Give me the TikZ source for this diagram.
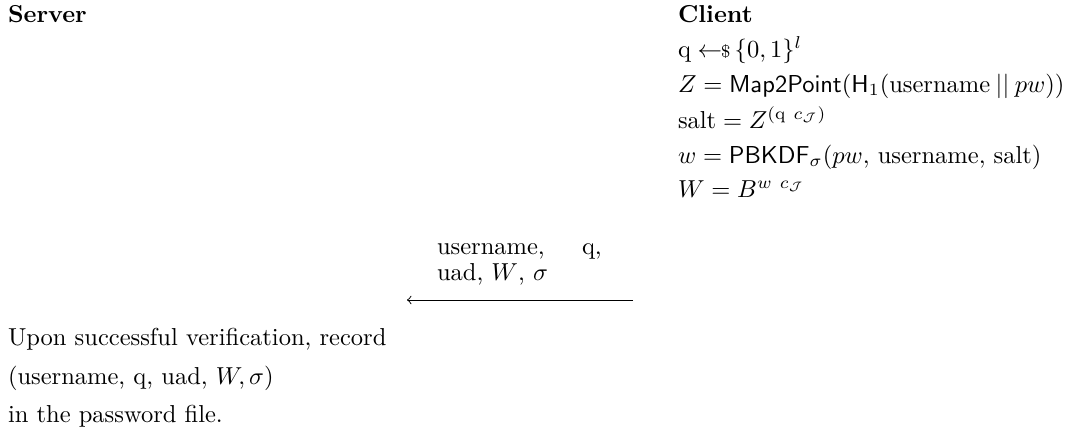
\documentclass[tikz,border=0pt]{standalone}
\usepackage{amsmath,amssymb}
\begin{document}
\begin{tikzpicture}[x=0.408pt,y=-0.408pt,
  txt/.style={anchor=base west,inner sep=0pt,outer sep=0pt},
  msg/.style={->,line width=0.4pt}]
\useasboundingbox (0,0) rectangle (1075,429);
% headers
\node[txt] (server) at (8,22) {\textbf{Server}};
\node[txt] (client) at (678,22) {\textbf{Client}};
% client computations
\node[txt] (c1) at (678,57) {$\mathrm{q} \leftarrow\!\!{\scriptstyle\$}\, \{0,1\}^l$};
\node[txt] (c2) at (678,92) {$Z = \mathsf{Map2Point}(\mathsf{H}_1(\text{username} \mathbin{||} pw))$};
\node[txt] (c3) at (678,128) {$\text{salt} = Z^{(\mathrm{q}\ c_{\mathcal{J}})}$};
\node[txt] (c4) at (678,163) {$w = \mathsf{PBKDF}_\sigma(pw,\, \text{username},\, \text{salt})$};
\node[txt] (c5) at (678,197) {$W = B^{w\ c_{\mathcal{J}}}$};
% message
\node[txt] (m1) at (437,254) {username,};
\node[txt] (m2) at (582,254) {q,};
\node[txt] (m3) at (437,280) {uad, $W$, $\sigma$};
\coordinate (aR) at (633,300);
\coordinate (aL) at (407,300);
\draw[msg] (aR) -- (aL);
% server record
\node[txt] (s1) at (8,345) {Upon successful verification, record};
\node[txt] (s2) at (8,384) {(username, q, uad, $W, \sigma$)};
\node[txt] (s3) at (8,422) {in the password file.};
\end{tikzpicture}
\end{document}
